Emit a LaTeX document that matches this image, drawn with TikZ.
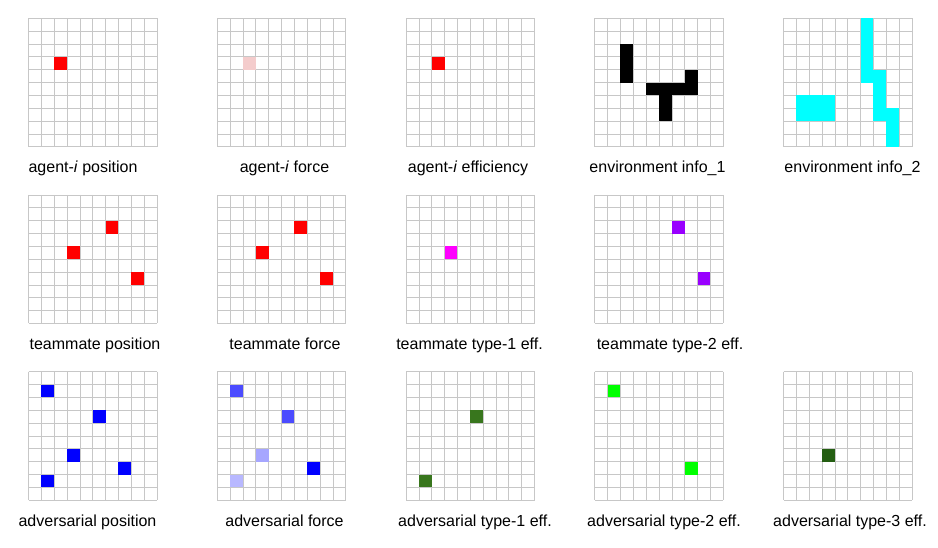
\documentclass[tikz,border=0pt]{standalone}
\usepackage{fontspec}
\setmainfont{Liberation Sans}
\usepackage{tikz}
\definecolor{lightred}{HTML}{F4CCCC}
\definecolor{aqua}{HTML}{00FFFF}
\definecolor{fuchsia}{HTML}{FF00FF}
\definecolor{violet2}{HTML}{9900FF}
\definecolor{darkgreen}{HTML}{38761D}
\definecolor{deepgreen}{HTML}{245E12}
\tikzset{
  gridline/.style={draw=black!22, line width=0.7pt},
  lbl/.style={anchor=base, inner sep=0pt, font=\fontsize{16}{19}\selectfont},
}
% one 10x10 board, top-left corner in px, list of col/row/colour cells
\def\panel(#1,#2)#3{%
  \begin{scope}[shift={(#1pt,-#2pt)}, x=12.85pt, y=-12.85pt]
    \foreach \k in {0,...,10} {\draw[gridline] (\k,0) -- (\k,10); \draw[gridline] (0,\k) -- (10,\k);}
    \foreach \c/\r/\f in {#3} {\fill[\f] (\c,\r) rectangle ++(1,1);}
  \end{scope}}

\begin{document}
\begin{tikzpicture}[x=1pt, y=-1pt]
		%%%%% START %%%%%
		\useasboundingbox (0,0) rectangle (938,548);
		
		% first row
		\panel(28.5,18.3){2/3/red}
		\panel(217.25,18.3){2/3/lightred}
		\panel(406,18.3){2/3/red}
		\panel(594.75,18.3){2/2/black, 2/3/black, 2/4/black, 4/5/black, 5/5/black, 6/5/black, 7/5/black, 7/4/black, 5/6/black, 5/7/black}
		\panel(783.5,18.3){6/0/aqua, 6/1/aqua, 6/2/aqua, 6/3/aqua, 6/4/aqua, 7/4/aqua, 7/5/aqua, 7/6/aqua, 7/7/aqua, 8/7/aqua, 8/8/aqua, 8/9/aqua, 1/6/aqua, 2/6/aqua, 3/6/aqua, 1/7/aqua, 2/7/aqua, 3/7/aqua}
		
		\node[lbl] (agentpos) at (83,173) {agent-\textit{i} position};
		\node[lbl] (agentforce) at (284.5,173) {agent-\textit{i} force};
		\node[lbl] (agenteff) at (468,173) {agent-\textit{i} efficiency};
		\node[lbl] (envone) at (657.5,173) {environment info\_1};
		\node[lbl] (envtwo) at (852.5,173) {environment info\_2};
		
		% second row
		\panel(28.5,195){6/2/red, 3/4/red, 8/6/red}
		\panel(217.25,195){6/2/red, 3/4/red, 8/6/red}
		\panel(406,195){3/4/fuchsia}
		\panel(594.75,195){6/2/violet2, 8/6/violet2}
		
		\node[lbl] (matepos) at (95,349.7) {teammate position};
		\node[lbl] (mateforce) at (285,349.7) {teammate force};
		\node[lbl] (mateone) at (469.5,349.7) {teammate type-1 eff.};
		\node[lbl] (matetwo) at (670,349.7) {teammate type-2 eff.};
		
		% third row
		\panel(28.5,371.7){1/1/blue, 5/3/blue, 3/6/blue, 7/7/blue, 1/8/blue}
		\panel(217.25,371.7){1/1/blue!70, 5/3/blue!70, 3/6/blue!35, 7/7/blue, 1/8/blue!28}
		\panel(406,371.7){5/3/darkgreen, 1/8/darkgreen}
		\panel(594.75,371.7){1/1/green, 7/7/green}
		\panel(783.5,371.7){3/6/deepgreen}
		
		\node[lbl] (advpos) at (87.5,526.4) {adversarial position};
		\node[lbl] (advforce) at (284.5,526.4) {adversarial force};
		\node[lbl] (advone) at (475,526.4) {adversarial type-1 eff.};
		\node[lbl] (advtwo) at (664,526.4) {adversarial type-2 eff.};
		\node[lbl] (advthree) at (850,526.4) {adversarial type-3 eff.};
		
		%%%%% END %%%%%
\end{tikzpicture}
\end{document}
